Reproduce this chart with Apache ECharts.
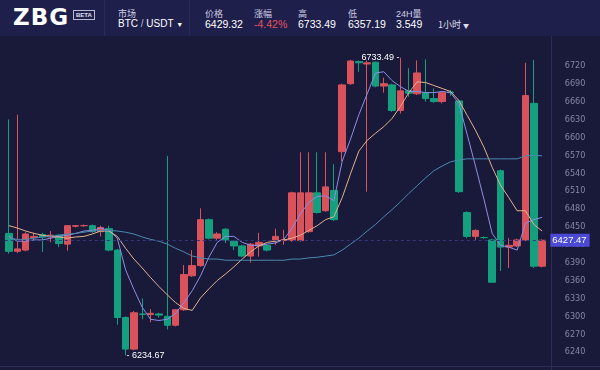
<!DOCTYPE html>
<html><head><meta charset="utf-8">
<script src="https://cdn.jsdelivr.net/npm/echarts@6/dist/echarts.min.js"></script>
<style>
html,body{margin:0;padding:0;background:#19193a;width:600px;height:370px;overflow:hidden;font-family:"Liberation Sans",Arial,sans-serif;}
#chart{position:absolute;left:0;top:0;width:600px;height:370px;}
#hdr{position:absolute;left:0;top:0;width:600px;height:36px;background:#1f1f4c;z-index:5;}
.t{position:absolute;white-space:nowrap;}
.lab{font-family:"Noto Sans CJK SC",sans-serif;font-size:9px;color:#d0d0e4;top:7px;}
.val{font-size:10.5px;color:#ffffff;top:18px;}
.sep{position:absolute;top:0;width:1px;height:36px;background:#2a2a5c;}
#logo{left:13px;top:4px;font-family:"DejaVu Sans",sans-serif;font-weight:bold;font-size:23px;line-height:26px;color:#fff;letter-spacing:1px;}
#beta{left:73px;top:10px;border:1px solid #b8b8d0;color:#e0e0f0;font-size:6px;padding:0 2px;line-height:8px;font-weight:bold;}
</style></head><body>
<div id="chart"></div>
<div id="hdr">
  <div class="t" id="logo">ZBG</div>
  <div class="t" id="beta">BETA</div>
  <div class="sep" style="left:104px"></div>
  <div class="t lab" style="left:118px">市场</div>
  <div class="t val" style="left:118px;font-size:10px">BTC<span style="color:#b8b8d0"> / </span>USDT <span style="font-size:7px">▼</span></div>
  <div class="sep" style="left:189px"></div>
  <div class="t lab" style="left:205px">价格</div>
  <div class="t val" style="left:205px">6429.32</div>
  <div class="t lab" style="left:254px">涨幅</div>
  <div class="t val" style="left:254px;color:#e8505c">-4.42%</div>
  <div class="t lab" style="left:298px">高</div>
  <div class="t val" style="left:298px">6733.49</div>
  <div class="t lab" style="left:348px">低</div>
  <div class="t val" style="left:348px">6357.19</div>
  <div class="t lab" style="left:396px;font-family:'Liberation Sans',sans-serif">24H<span style="font-family:'Noto Sans CJK SC'">量</span></div>
  <div class="t val" style="left:396px">3.549</div>
  <div class="t" style="left:438px;top:18px;font-family:'Noto Sans CJK SC',sans-serif;font-size:9px;color:#e0e0f0">1小时 <span style="font-size:6px">▼</span></div>
</div>
<script>
// ---- data ----
const categories = Array.from({length:65},(_,i)=>'K'+(i+1));
const opens  = [6439,6409,6411,6432,6437,6433,6436,6421,6451,6452,6452,6442,6447,6411,6298,6245,6304,6303,6304,6300,6285,6311,6368,6385,6462,6431,6446,6426,6418,6401,6418,6419,6428,6427,6427,6427,6442,6507,6477,6511,6576,6690,6727,6723,6726,6686,6688,6645,6678,6673,6675,6665,6660,6676,6661,6474,6434,6432,6428,6544,6416,6418,6428,6657,6384];
const closes = [6409,6413,6438,6434,6433,6436,6422,6452,6452,6452,6442,6449,6411,6298,6245,6306,6303,6305,6302,6285,6311,6370,6385,6462,6431,6438,6428,6418,6401,6421,6424,6411,6434,6428,6507,6507,6507,6474,6517,6462,6688,6728,6725,6725,6686,6690,6645,6678,6674,6708,6665,6660,6675,6675,6509,6434,6444,6432,6357.19,6416,6419,6428,6670,6384,6427.47];
const lows   = [6405,6406,6409,6428,6408,6424,6416,6410,6449,6450,6440,6434,6409,6286,6234.67,6243,6295,6290,6298,6278,6283,6309,6366,6383,6429,6428,6423,6411,6399,6390,6400,6409,6420,6420,6425,6425,6440,6472,6475,6460,6560,6688,6710,6509,6684,6675,6643,6640,6668,6671,6660,6658,6657,6670,6507,6431,6428,6430,6357.19,6376,6381,6416,6426,6381,6382];
const highs  = [6630,6638,6441,6440,6440,6443,6437,6453,6453,6454,6454,6452,6452,6413,6300,6309,6330,6312,6306,6569,6312,6386,6411,6481,6464,6441,6448,6428,6420,6423,6440,6421,6447,6445,6509,6575,6575,6575,6575,6555,6690,6730,6729,6729,6727,6700,6690,6733.49,6716,6729,6731,6682,6677,6679,6663,6476,6446,6434,6430,6546,6431,6430,6725,6730,6429];
const maFast = [6434,6426,6426,6428,6428,6431,6434,6436,6439,6443,6444,6448,6444,6431,6378,6345,6315,6295,6293,6295,6305,6323,6343,6368,6399,6424,6434,6434,6424,6419,6419,6421,6423,6429,6448,6472,6491,6501,6502,6494,6560,6597,6638,6673,6708,6710,6695,6685,6677,6677,6675,6675,6677,6675,6657,6605,6552,6497,6439,6419,6416,6411,6456,6462,6466];
const maMid  = [6452,6448,6443,6439,6436,6434,6433,6431,6433,6434,6438,6443,6443,6434,6414,6396,6381,6365,6350,6336,6323,6313,6310,6331,6346,6360,6371,6383,6396,6408,6418,6424,6426,6428,6431,6436,6444,6452,6462,6467,6499,6539,6577,6595,6607,6618,6632,6652,6675,6693,6692,6687,6682,6677,6662,6637,6612,6584,6550,6520,6499,6477,6477,6454,6443];
const maSlow = [6431,6429,6429,6431,6433,6434,6436,6438,6439,6441,6443,6444,6444,6443,6441,6438,6433,6429,6426,6421,6414,6408,6401,6398,6396,6396,6394,6394,6394,6394,6394,6394,6394,6394,6396,6396,6398,6399,6401,6403,6411,6421,6431,6443,6454,6467,6479,6492,6506,6519,6532,6544,6552,6559,6562,6564,6564,6564,6564,6564,6564,6564,6569,6570,6569];
const lastPrice = 6427.47;
const yTicks = {min:6210, max:6780, step:30, shownMin:6240, shownMax:6720};

const kData = opens.map((o,i)=>[o, closes[i], lows[i], highs[i]]);
const UP = '#d9525c', DOWN = '#14a07e';
const chart = echarts.init(document.getElementById('chart'), null, {renderer:'canvas'});
const maLine = (name, data, color) => ({
  name, type:'line', data, symbol:'none', smooth:false, z:3,
  lineStyle:{width:1, color}, silent:true
});
chart.setOption({
  animation:false,
  backgroundColor:'#19193a',
  grid:{left:4.8, width:541.5, top:30, height:343, containLabel:false},
  xAxis:{type:'category', data:categories, boundaryGap:true,
    axisLine:{show:false}, axisTick:{show:false}, axisLabel:{show:false}, splitLine:{show:false}},
  yAxis:{type:'value', position:'right', min:yTicks.min, max:yTicks.max, interval:yTicks.step, scale:true,
    axisLine:{show:false}, axisTick:{show:false}, splitLine:{show:false},
    axisLabel:{color:'#8585a6', fontSize:9, margin:18.5, align:'left',
      fontFamily:"'Liberation Sans Narrow','DejaVu Sans Condensed',sans-serif",
      formatter:v=> (v<yTicks.shownMin||v>yTicks.shownMax)?'':String(v)}},
  graphic:[
    {type:'line', shape:{x1:551.5,y1:36,x2:551.5,y2:370}, style:{stroke:'#2c2c58', lineWidth:1}, silent:true},
    {type:'line', shape:{x1:0,y1:366.5,x2:600,y2:366.5}, style:{stroke:'#2c2c58', lineWidth:1}, silent:true}
  ],
  series:[
    {type:'candlestick', data:kData, barWidth:7, z:2,
      itemStyle:{color:UP, color0:DOWN, borderColor:UP, borderColor0:DOWN, borderWidth:1},
      markPoint:{symbol:'circle', symbolSize:0, silent:true,
        data:[
          {type:'max', valueDim:'highest', label:{position:'left', distance:1, formatter:p=>p.value.toFixed(2)+' -'}},
          {type:'min', valueDim:'lowest', label:{position:'right', distance:1, formatter:p=>'- '+p.value.toFixed(2)}}
        ],
        label:{show:true, color:'#ffffff', fontSize:9, fontFamily:"'Liberation Sans',sans-serif"}},
      markLine:{symbol:['none','none'], silent:true,
        lineStyle:{type:[3,3], color:'#34357a', width:1},
        label:{show:true, position:'end', distance:4, formatter:()=>lastPrice.toFixed(2),
          color:'#ffffff', backgroundColor:'#4b49d6', padding:[2,3,1,2], fontSize:9.5, fontFamily:"'Liberation Sans',sans-serif"},
        data:[{yAxis:lastPrice}]}
    },
    maLine('MA5', maFast, '#8d8fe6'),
    maLine('MA10', maMid, '#e2b28e'),
    maLine('MA30', maSlow, '#4b89ad')
  ]
});
</script>
</body></html>
